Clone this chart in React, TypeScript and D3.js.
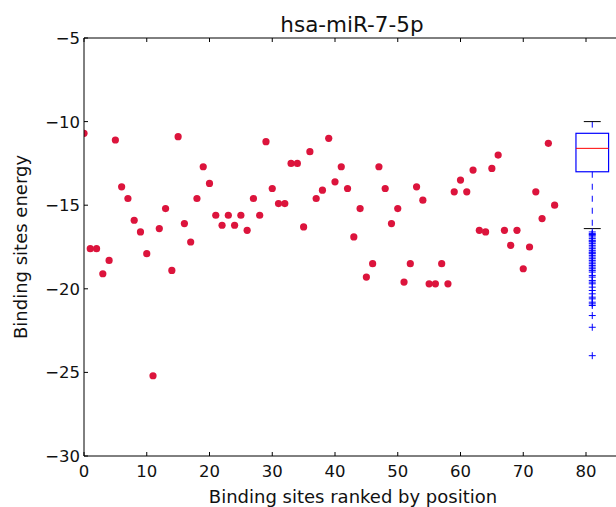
import React from "react";
import * as d3 from "d3";

// energies of binding sites, ranked by position (index = rank)
const energies = [
  -10.7, -17.6, -17.6, -19.1, -18.3, -11.1, -13.9, -14.6, -15.9, -16.6,
  -17.9, -25.2, -16.4, -15.2, -18.9, -10.9, -16.1, -17.2, -14.6, -12.7,
  -13.7, -15.6, -16.2, -15.6, -16.2, -15.6, -16.5, -14.6, -15.6, -11.2,
  -14.0, -14.9, -14.9, -12.5, -12.5, -16.3, -11.8, -14.6, -14.1, -11.0,
  -13.6, -12.7, -14.0, -16.9, -15.2, -19.3, -18.5, -12.7, -14.0, -16.1,
  -15.2, -19.6, -18.5, -13.9, -14.7, -19.7, -19.7, -18.5, -19.7, -14.2,
  -13.5, -14.2, -12.9, -16.5, -16.6, -12.8, -12.0, -16.5, -17.4, -16.5,
  -18.8, -17.5, -14.2, -15.8, -11.3, -15.0,
];

// summary of the energy distribution (boxplot at position 81)
const boxPos = 81;
const boxStats = { whiskerHigh: -10.0, q3: -10.7, median: -11.6, q1: -13.0, whiskerLow: -16.4 };
const outliers = [
  -16.6, -16.7, -16.75, -16.8, -16.9, -17.0, -17.1, -17.15, -17.2, -17.3, -17.4, -17.5,
  -17.6, -17.7, -17.8, -17.85, -17.9, -18.0, -18.1, -18.2, -18.3, -18.4, -18.5,
  -18.6, -18.7, -18.8, -18.9, -19.0, -19.2, -19.3, -19.5, -19.6, -19.7, -19.9,
  -20.1, -20.3, -20.5, -20.6, -20.8, -20.9, -21.0, -21.6, -22.3, -24.0,
];

const xTicks = [0, 10, 20, 30, 40, 50, 60, 70, 80];
const yTicks = [-5, -10, -15, -20, -25, -30];

const W = 616;
const H = 507;
const margin = { top: 38, left: 84, bottom: 51 };
const font = "DejaVu Sans, sans-serif";

const App = () => {
  const x = d3.scaleLinear().domain([0, 85]).range([margin.left, margin.left + 85 * 6.275]);
  const y = d3.scaleLinear().domain([-5, -30]).range([margin.top, H - margin.bottom]);
  const [x0, x1] = x.range();
  const [y0, y1] = y.range();
  const fmt = (v: number) => String(v).replace("-", "\u2212");
  const halfBox = 2.6;
  const halfCap = 1.35;
  const bx = x(boxPos);

  return (
    <svg width={W} height={H} style={{ position: "absolute", left: 0, top: 0 }} fontFamily={font}>
      <defs>
        <clipPath id="plot">
          <rect x={x0} y={y0} width={x1 - x0} height={y1 - y0} />
        </clipPath>
      </defs>
      <rect width={W} height={H} fill="white" />

      <g clipPath="url(#plot)">
        {energies.map((e, i) => (
          <circle key={i} cx={x(i)} cy={y(e)} r={3.6} fill="crimson" />
        ))}

        {/* boxplot */}
        <line x1={bx} x2={bx} y1={y(boxStats.whiskerHigh)} y2={y(boxStats.q3)} stroke="blue" strokeDasharray="6,6" />
        <line x1={bx} x2={bx} y1={y(boxStats.q1)} y2={y(boxStats.whiskerLow)} stroke="blue" strokeDasharray="6,6" />
        <line x1={x(boxPos - halfCap)} x2={x(boxPos + halfCap)} y1={y(boxStats.whiskerHigh)} y2={y(boxStats.whiskerHigh)} stroke="black" />
        <line x1={x(boxPos - halfCap)} x2={x(boxPos + halfCap)} y1={y(boxStats.whiskerLow)} y2={y(boxStats.whiskerLow)} stroke="black" />
        <rect x={x(boxPos - halfBox)} y={y(boxStats.q3)} width={x(boxPos + halfBox) - x(boxPos - halfBox)}
          height={y(boxStats.q1) - y(boxStats.q3)} fill="none" stroke="blue" strokeWidth={1.2} />
        <line x1={x(boxPos - halfBox)} x2={x(boxPos + halfBox)} y1={y(boxStats.median)} y2={y(boxStats.median)} stroke="red" />
        {outliers.map((o, i) => (
          <path key={i} d={`M${bx - 3.5},${y(o)}H${bx + 3.5}M${bx},${y(o) - 3.5}V${y(o) + 3.5}`} stroke="blue" strokeWidth={1} />
        ))}
      </g>

      {/* frame */}
      <path d={`M${x0},${y0}V${y1}H${x1}M${x0},${y0}H${x1}`} fill="none" stroke="black" strokeWidth={1} />

      {xTicks.map(t => (
        <g key={t}>
          <line x1={x(t)} x2={x(t)} y1={y1} y2={y1 - 4} stroke="black" />
          <line x1={x(t)} x2={x(t)} y1={y0} y2={y0 + 4} stroke="black" />
          <text x={x(t)} y={y1 + 21} textAnchor="middle" fontSize={16.5} fill="#111">{t}</text>
        </g>
      ))}
      {yTicks.map(t => (
        <g key={t}>
          <line x1={x0} x2={x0 + 4} y1={y(t)} y2={y(t)} stroke="black" />
          <text x={x0 - 4} y={y(t) + 6} textAnchor="end" fontSize={16.5} fill="#111">{fmt(t)}</text>
        </g>
      ))}

      <text x={352} y={32} textAnchor="middle" fontSize={21.5} fill="#111">hsa-miR-7-5p</text>
      <text x={353} y={503} textAnchor="middle" fontSize={18} fill="#111">Binding sites ranked by position</text>
      <text transform={`translate(27,${(y0 + y1) / 2}) rotate(-90)`} textAnchor="middle" fontSize={18} fill="#111">
        Binding sites energy
      </text>
    </svg>
  );
};

export default App;
